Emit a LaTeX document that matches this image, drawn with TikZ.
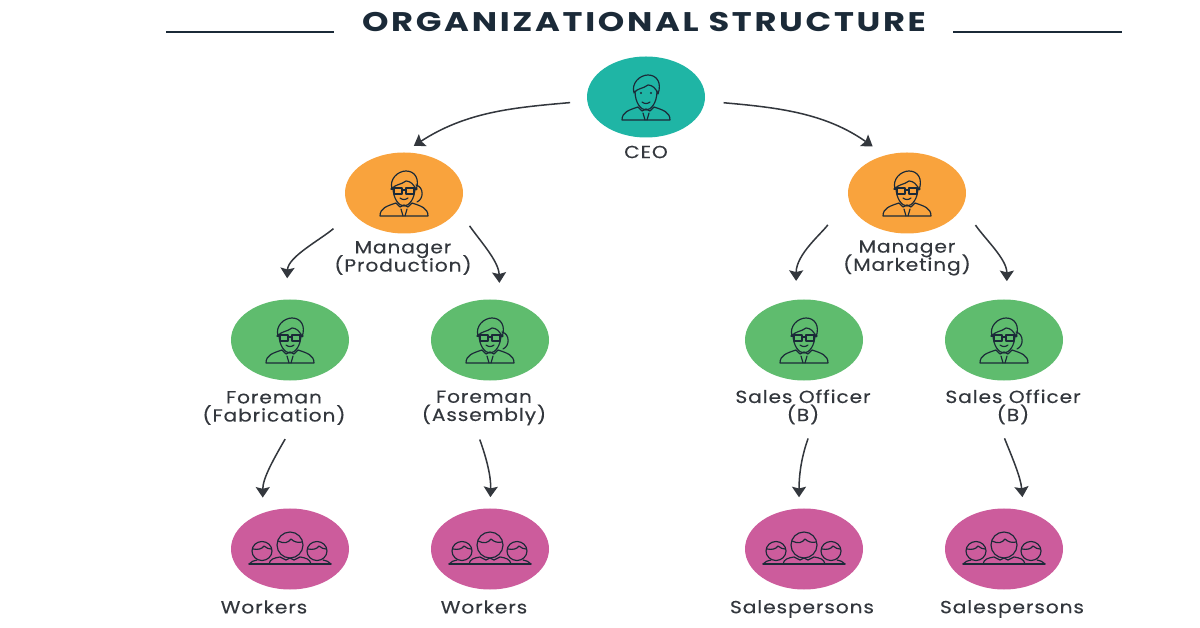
\documentclass[tikz,border=0pt]{standalone}
\usepackage{fontspec}
\setmainfont{Poppins}[LetterSpace=5,FakeStretch=1.15,FakeBold=0.25]
\newfontfamily\titlefont{Poppins}[LetterSpace=10,FakeStretch=1.25,BoldFont=* Bold]
\usetikzlibrary{arrows.meta,shapes.geometric}

\definecolor{inkdark}{HTML}{1B2A38}
\definecolor{textdark}{HTML}{33373D}
\definecolor{tealfill}{HTML}{1FB5A5}
\definecolor{orangefill}{HTML}{F9A33D}
\definecolor{greenfill}{HTML}{5FBC6E}
\definecolor{pinkfill}{HTML}{CC5C9C}

\tikzset{
    bubble/.style={ellipse, inner sep=0pt, minimum width=3.54cm, minimum height=2.43cm},
    caption/.style={text=textdark, align=center, font={\fontsize{15}{15.5}\selectfont\lineskiplimit=-5pt\relax}},
    flow/.style={line width=1.3pt, draw=textdark, -{Stealth[length=9pt, width=12pt, inset=1.5pt]}},
    icon/.style={line width=1pt, draw=inkdark, line join=round, line cap=round},
    bust/.pic={
        \draw[icon] (-24,23) .. controls (-24,15) and (-17,13) .. (-8,10)
            -- (-4,14) -- (0,12) -- (4,14) -- (8,10)
            .. controls (17,13) and (24,15) .. (24,23) -- cycle;
        \draw[icon] (-3,16) -- (-1,23) (3,16) -- (1,23);
        \draw[icon] (-11,-6) .. controls (-11,6) and (-5,13) .. (0,13)
            .. controls (5,13) and (11,6) .. (11,-6);
        \draw[icon] (-12,-4) .. controls (-15,-14) and (-6,-22) .. (2,-22)
            .. controls (11,-22) and (16,-14) .. (12,-3)
            .. controls (10,-9) and (6,-12) .. (2,-12)
            .. controls (-3,-8) and (-9,-9) .. (-12,-4);
        \draw[icon] (-4,5) .. controls (-2,7) and (2,7) .. (4,5);
    },
    eyes/.pic={
        \fill[inkdark] (-5,-4) circle (1.2) (5,-4) circle (1.2);
    },
    specs/.pic={
        \draw[icon] (-10,-5) rectangle (-2,1) (2,-5) rectangle (10,1);
        \draw[icon] (-2,-3) -- (2,-3) (-13,-4) -- (-10,-4) (10,-4) -- (13,-4);
    },
    headset/.pic={
        \draw[icon] (12,-8) .. controls (20,-6) and (20,6) .. (13,9);
    },
    crowd/.pic={
        \draw[icon] (-41,15) -- (41,15);
        \draw[icon] (-21,15) .. controls (-20,10) and (-16,9) .. (-10,8)
            -- (-4,11) -- (0,9) -- (4,11) -- (10,8)
            .. controls (16,9) and (20,10) .. (21,15);
        \draw[icon] (0,-4) ellipse [x radius=13, y radius=13];
        \draw[icon] (-12,-8) .. controls (-6,-5) and (-2,-6) .. (1,-10)
            .. controls (4,-7) and (8,-6) .. (12,-7);
        \draw[icon] (-28,2) ellipse [x radius=10, y radius=9.5];
        \draw[icon] (27,2) ellipse [x radius=10, y radius=9.5];
        \draw[icon] (-37,0) .. controls (-32,1) and (-28,0) .. (-26,-3)
            .. controls (-24,-1) and (-21,0) .. (-19,0);
        \draw[icon] (18,0) .. controls (23,1) and (27,0) .. (29,-3)
            .. controls (31,-1) and (34,0) .. (36,0);
        \draw[icon] (-41,15) .. controls (-39,12) and (-36,12) .. (-33,11);
        \draw[icon] (41,15) .. controls (39,12) and (36,12) .. (33,11);
    }
}

\begin{document}
\begin{tikzpicture}[x=0.03cm, y=-0.03cm]
    \useasboundingbox (0,0) rectangle (1200,628);

    % heading
    \node[text=inkdark, font=\titlefont\bfseries\fontsize{23}{26}\selectfont] (heading) at (644,22) {ORGANIZATIONAL STRUCTURE};
    \draw[line width=1.2pt, inkdark] (166,32) -- (334,32);
    \draw[line width=1.2pt, inkdark] (953,32) -- (1122,32);

    % top of the chart
    \node[bubble, fill=tealfill] (ceo) at (646,97) {};
    \node[caption] (ceoText) at (646,152) {CEO};

    % managers
    \node[bubble, fill=orangefill] (mgrProd) at (404,193) {};
    \node[bubble, fill=orangefill] (mgrMark) at (907,193) {};
    \node[caption] (mgrProdText) at (403,258) {Manager\\(Production)};
    \node[caption] (mgrMarkText) at (907,258) {Manager\\(Marketing)};

    % foremen and sales officers
    \node[bubble, fill=greenfill] (foreFab) at (290,340) {};
    \node[bubble, fill=greenfill] (foreAsm) at (490,340) {};
    \node[bubble, fill=greenfill] (salesA) at (804,340) {};
    \node[bubble, fill=greenfill] (salesB) at (1004,340) {};
    \node[caption] (foreFabText) at (274,408) {Foreman\\(Fabrication)};
    \node[caption] (foreAsmText) at (484,408) {Foreman\\(Assembly)};
    \node[caption] (salesAText) at (803,407) {Sales Officer\\(B)};
    \node[caption] (salesBText) at (1013,407) {Sales Officer\\(B)};

    % bottom row
    \node[bubble, fill=pinkfill] (workFab) at (290,549) {};
    \node[bubble, fill=pinkfill] (workAsm) at (490,549) {};
    \node[bubble, fill=pinkfill] (sellA) at (804,549) {};
    \node[bubble, fill=pinkfill] (sellB) at (1004,549) {};
    \node[caption] (workFabText) at (264,607) {Workers};
    \node[caption] (workAsmText) at (484,607) {Workers};
    \node[caption] (sellAText) at (802,609) {Salespersons};
    \node[caption] (sellBText) at (1012,609) {Salespersons};

    % faces
    \pic at (646,97) {bust};
    \pic at (646,97) {eyes};
    \pic at (404,193) {bust};
    \pic at (404,193) {specs};
    \pic at (404,193) {headset};
    \pic at (907,193) {bust};
    \pic at (907,193) {specs};
    \pic at (290,340) {bust};
    \pic at (290,340) {specs};
    \pic at (490,340) {bust};
    \pic at (490,340) {specs};
    \pic at (490,340) {headset};
    \pic at (804,340) {bust};
    \pic at (804,340) {specs};
    \pic at (1004,340) {bust};
    \pic at (1004,340) {specs};
    \pic at (1004,340) {headset};
    \pic at (290,549) {crowd};
    \pic at (490,549) {crowd};
    \pic at (804,549) {crowd};
    \pic at (1004,549) {crowd};

    % arrows
    \draw[flow, shorten <=14.5pt, shorten >=10pt] (ceo.184) to[out=185, in=33] (mgrProd.north);
    \draw[flow, shorten <=16pt, shorten >=13pt] (ceo.-4) to[out=-5, in=145] (mgrMark.120);

    \draw[flow, shorten <=21pt, shorten >=18pt] (mgrProd.201) to[out=220, in=88] (foreFab.95);
    \draw[flow, shorten <=17pt, shorten >=14.5pt] (mgrProd.-17) to[out=-55, in=92] (foreAsm.76);
    \draw[flow, shorten <=30pt, shorten >=16pt] (mgrMark.183) to[out=235, in=90] (salesA.101);
    \draw[flow, shorten <=19pt, shorten >=15.5pt] (mgrMark.-14) to[out=-55, in=90] (salesB.86);

    \draw[flow, shorten <=10pt, shorten >=13pt] (foreFabText.-51) to[out=-120, in=90] (workFab.127);
    \draw[flow, shorten <=9pt, shorten >=9.5pt] (foreAsmText.-110) to[out=-70, in=88] (workAsm.north);
    \draw[flow, shorten <=9pt, shorten >=9.5pt] (salesAText.-68) to[out=-110, in=90] (sellA.97);
    \draw[flow, shorten <=9pt, shorten >=11.5pt] (salesBText.-120) to[out=-68, in=95] (sellB.63);
\end{tikzpicture}
\end{document}
